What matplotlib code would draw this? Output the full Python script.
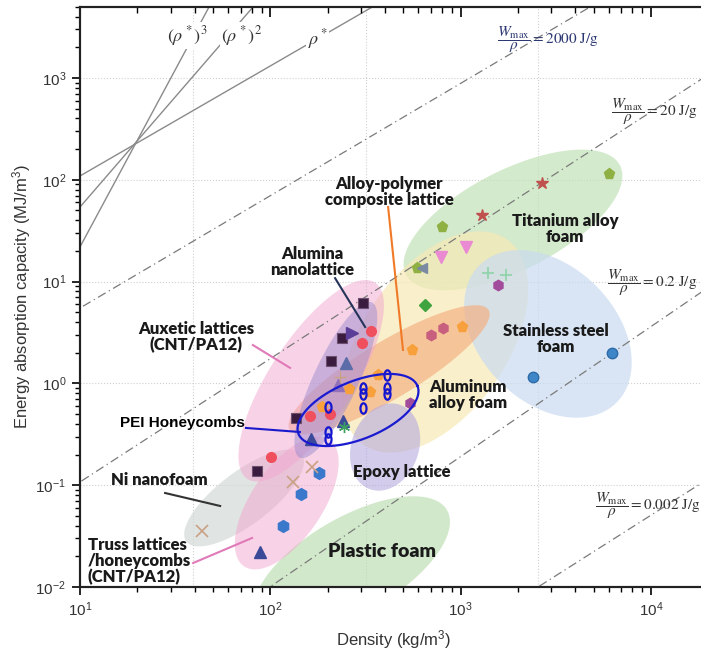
import numpy as np
import matplotlib
matplotlib.use('Agg')
import matplotlib.pyplot as plt
from matplotlib.path import Path
from matplotlib.transforms import Affine2D
from matplotlib.ticker import LogLocator, FuncFormatter, NullFormatter

plt.rcParams['font.family'] = ['Liberation Sans', 'DejaVu Sans']

# ---------------- data (density kg/m3, W MJ/m3) ----------------
sq_rho = [307, 238, 208, 136, 85]
sq_w = [6.2, 2.8, 1.66, 0.457, 0.138]

red_rho = [338, 303, 206, 162, 101]
red_w = [3.27, 2.49, 0.50, 0.48, 0.189]

navy_tri_rho = [241, 164, 88]
navy_tri_w = [0.43, 0.284, 0.022]
slate_tri_rho = [250]
slate_tri_w = [1.58]
violet_tri_rho = [227]
violet_tri_w = [0.96]
right_tri_rho = [269]
right_tri_w = [3.13]

orange_rho = [187, 259, 334, 368, 556, 1016]
orange_w = [0.586, 0.88, 0.82, 1.21, 2.13, 3.58]

mauve_rho = [698, 809]
mauve_w = [2.99, 3.50]
purple_hex_rho = [1574, 542]
purple_hex_w = [9.27, 0.64]
diamond_rho = [650]
diamond_w = [5.9]
olive_rho = [798, 590, 6026]
olive_w = [34.4, 13.6, 114]
left_tri_rho = [627]
left_tri_w = [13.6]
star_rho = [2680, 1294]
star_w = [93, 45]
down_tri_rho = [789, 1067]
down_tri_w = [17.5, 21.9]
gplus_rho = [1393, 1733]
gplus_w = [12.1, 11.6]
sphere_rho = [2400, 6250]
sphere_w = [1.16, 1.99]
bhex_rho = [180, 145, 117]
bhex_w = [0.132, 0.082, 0.040]
tanx_rho = [166, 132, 43.7]
tanx_w = [0.151, 0.107, 0.0355]
tanplus_rho = [232]
tanplus_w = [1.16]
aster_rho = [244]
aster_w = [0.373]

pei_rho = [410, 307, 307, 410, 410, 307, 201, 201, 201]
pei_w = [1.21, 0.90, 0.787, 0.90, 0.787, 0.575, 0.586, 0.333, 0.284]

# material regions: name, centre density, centre W, semi-axes (decades), angle (deg)
region_names = ['Plastic foam', 'Titanium alloy foam', 'Aluminum alloy foam',
                'Stainless steel foam', 'Alloy-polymer composite lattice', 'Ni nanofoam',
                'Auxetic lattices', 'Truss lattices', 'Alumina nanolattice', 'Epoxy lattice']
region_rho = [268, 1884, 735, 2877, 421, 72.8, 164, 122, 221, 401]
region_w = [0.0164, 40.3, 2.55, 3.06, 1.36, 0.0748, 1.06, 0.0668, 1.08, 0.237]
region_a = [1.08, 1.18, 1.23, 0.953, 1.14, 0.71, 1.15, 0.75, 0.84, 0.44]
region_b = [0.47, 0.49, 0.71, 0.668, 0.28, 0.26, 0.41, 0.35, 0.22, 0.33]
region_ang = [30, 27, 55, -45, 31, 37, 57, 56, 65, 70]
region_colors = ['#bfdfb5', '#c3e2b8', '#f7e9b5', '#c9dbf0', '#f5ad7e', '#d3d9d6',
                 '#f2a6cf', '#f2a6cf', '#9c8ed0', '#b6aadf']
region_alpha = [0.7, 0.7, 0.7, 0.7, 0.65, 0.7, 0.5, 0.5, 0.5, 0.6]

# PEI honeycomb outline
pei_c = (289, 0.548)
pei_ax = (0.63, 0.285, 22)

# constant W/rho guide lines, two points each
guide_pts = [[(10, 5.5), (4786, 4977)],
             [(10, 0.1075), (18130, 955)],
             [(103, 0.01047), (18130, 7.72)],
             [(2553, 0.0100), (18130, 0.1028)]]
guide_texts = [r'$\dfrac{W_{\max}}{\rho} = 2000\ \mathrm{J/g}$',
               r'$\dfrac{W_{\max}}{\rho} = 20\ \mathrm{J/g}$',
               r'$\dfrac{W_{\max}}{\rho} = 0.2\ \mathrm{J/g}$',
               r'$\dfrac{W_{\max}}{\rho} = 0.002\ \mathrm{J/g}$']
guide_text_pos = [(1552, 2362), (6150, 464), (5860, 9.68), (5083, 0.0638)]

# relative density scaling lines
power_pts = [[(10, 109), (152, 2063)],
             [(10, 54), (55.7, 2208)],
             [(10, 21.9), (36.5, 1972)]]
power_texts = [r'$\rho^*$', r'$(\rho^*)^2$', r'$(\rho^*)^3$']
power_text_pos = [(178, 2416), (71, 2588), (36.5, 2588)]

vgrid = [39.3, 318, 2553]
hgrid = [0.1, 1, 10, 100, 1000]

# ---------------- figure ----------------
fig = plt.figure(figsize=(7.01, 6.51), dpi=100)
ax = fig.add_axes([80 / 701, 64 / 651, 628.2 / 701, 580.2 / 651])
ax.set_xscale('log')
ax.set_yscale('log')
ax.set_xlim(10, 2e4)
ax.set_ylim(0.01, 5000)

for v in vgrid:
    ax.axvline(v, color='#d0d0d0', ls=':', lw=0.8, zorder=0)
for h in hgrid:
    ax.axhline(h, color='#d0d0d0', ls=':', lw=0.8, zorder=0)

# pixel aspect of one decade, for ellipses that look right on screen
p = ax.transData.transform([(10, 1), (100, 10)])
k = (p[1, 1] - p[0, 1]) / (p[1, 0] - p[0, 0])


def ellipse_xy(rc, wc, a, b, ang):
    t = np.linspace(0, 2 * np.pi, 240)
    th = np.deg2rad(ang)
    du = (a * np.cos(th) * np.cos(t) - b * np.sin(th) * np.sin(t)) * k
    dv = a * np.sin(th) * np.cos(t) + b * np.cos(th) * np.sin(t)
    return 10 ** (np.log10(rc) + du), 10 ** (np.log10(wc) + dv)


for i in range(len(region_names)):
    x, y = ellipse_xy(region_rho[i], region_w[i], region_a[i], region_b[i], region_ang[i])
    ax.fill(x, y, color=region_colors[i], alpha=region_alpha[i], lw=0, zorder=1)

# guide lines
xs = np.array([5, 5e4])
for pts in guide_pts:
    (x1, y1), (x2, y2) = pts
    s = (np.log10(y2) - np.log10(y1)) / (np.log10(x2) - np.log10(x1))
    ys = 10 ** (np.log10(y1) + s * (np.log10(xs) - np.log10(x1)))
    ax.plot(xs, ys, color='#7a7a7a', lw=0.9, ls=(0, (7, 3, 1, 3)), zorder=2)

for pts in power_pts:
    (x1, y1), (x2, y2) = pts
    s = (np.log10(y2) - np.log10(y1)) / (np.log10(x2) - np.log10(x1))
    ys = 10 ** (np.log10(y1) + s * (np.log10(xs) - np.log10(x1)))
    ax.plot(xs, ys, color='#8a8a8a', lw=1.0, zorder=2)

for txt, (tx, ty) in zip(power_texts, power_text_pos):
    ax.text(tx, ty, txt, fontsize=13, ha='center', va='center', color='#333333',
            math_fontfamily='stix', zorder=3,
            bbox=dict(facecolor='white', edgecolor='none', pad=1.0))

for i, (txt, (tx, ty)) in enumerate(zip(guide_texts, guide_text_pos)):
    ax.text(tx, ty, txt, fontsize=11, ha='left', va='center',
            color='#2c3872' if i == 0 else '#333333', math_fontfamily='stix', zorder=3)

# PEI outline
x, y = ellipse_xy(pei_c[0], pei_c[1], pei_ax[0], pei_ax[1], pei_ax[2])
ax.plot(x, y, color='#1a1ad0', lw=1.6, zorder=5)

# markers
mk = dict(ls='none', zorder=4)
ax.plot(sq_rho, sq_w, marker='s', ms=6.5, mfc='#3a1c3e', mec='#6d5070', mew=0.8, **mk)
ax.plot(red_rho, red_w, marker='o', ms=7, mfc='#f0505e', mec='#f0505e', **mk)
ax.plot(navy_tri_rho, navy_tri_w, marker='^', ms=8, mfc='#3b4a98', mec='#3b4a98', **mk)
ax.plot(slate_tri_rho, slate_tri_w, marker='^', ms=8, mfc='#5b6ca8', mec='#5b6ca8', **mk)
ax.plot(violet_tri_rho, violet_tri_w, marker='^', ms=8, mfc='#9070b8', mec='#9070b8', **mk)
ax.plot(right_tri_rho, right_tri_w, marker='>', ms=8, mfc='#5a3e98', mec='#5a3e98', **mk)
ax.plot(orange_rho, orange_w, marker='p', ms=8, mfc='#f7a03c', mec='#f7a03c', **mk)
ax.plot(mauve_rho, mauve_w, marker='h', ms=7.5, mfc='#c85f7e', mec='#c85f7e', **mk)
ax.plot(purple_hex_rho, purple_hex_w, marker='h', ms=7.5, mfc='#a24c9c', mec='#a24c9c', **mk)
ax.plot(diamond_rho, diamond_w, marker='D', ms=6, mfc='#3fa33f', mec='#3fa33f', **mk)
ax.plot(olive_rho, olive_w, marker='p', ms=8, mfc='#8fb043', mec='#8fb043', **mk)
ax.plot(left_tri_rho, left_tri_w, marker='<', ms=7, mfc='#7a8aa2', mec='#7a8aa2', **mk)
ax.plot(star_rho, star_w, marker='*', ms=9, mfc='#c0504d', mec='#c0504d', **mk)
ax.plot(down_tri_rho, down_tri_w, marker='v', ms=8, mfc='#e98ad2', mec='#e98ad2', **mk)
ax.plot(gplus_rho, gplus_w, marker='+', ms=8, mec='#8fd4aa', mew=1.2, **mk)
ax.plot(sphere_rho, sphere_w, marker='o', ms=7.5, mfc='#3f86c8', mec='#2d6aa8', **mk)
ax.plot(bhex_rho, bhex_w, marker='h', ms=8.5, mfc='#3a78cc', mec='#3a78cc', **mk)
ax.plot(tanx_rho, tanx_w, marker='x', ms=8, mec='#c9a184', mew=1.2, **mk)
ax.plot(tanplus_rho, tanplus_w, marker='+', ms=8, mec='#c9a184', mew=1.0, **mk)
ax.plot(aster_rho, aster_w, marker=(6, 2, 0), ms=8, mec='#3da060', mew=1.0, **mk)
oval = Path.unit_circle().transformed(Affine2D().scale(0.58, 1.0))
ax.plot(pei_rho, pei_w, marker=oval, ms=7.5, mfc='none', mec='#1515d0', mew=1.6, **mk)

# annotation leader lines
leaders = [([219, 315], [10.8, 3.58], '#26345a'),
           ([416, 498], [54, 2.13], '#f07a28'),
           ([81, 127], [2.38, 1.42], '#e07ab8'),
           ([28, 54.5], [0.0838, 0.0625], '#333333'),
           ([39.3, 80.2], [0.0172, 0.0303], '#e07ab8'),
           ([74.5, 143], [0.365, 0.333], '#1a1acc')]
for lx, ly, c in leaders:
    ax.plot(lx, ly, color=c, lw=1.5, zorder=3)

lab = dict(fontfamily='Lato', fontweight='heavy', color='#1a1a1a', fontsize=12,
           ha='center', va='center', linespacing=1.0, zorder=6)
ax.text(421, 75.9, 'Alloy-polymer\ncomposite lattice', **lab)
ax.text(3540, 32.9, 'Titanium alloy\nfoam', **lab)
ax.text(166, 15.6, 'Alumina\nnanolattice', **lab)
ax.text(40.7, 2.86, 'Auxetic lattices\n(CNT/PA12)', **lab)
ax.text(3170, 2.73, 'Stainless steel\nfoam', **lab)
ax.text(1094, 0.769, 'Aluminum\nalloy foam', **lab)
ax.text(492, 0.135, 'Epoxy lattice', **lab)
ax.text(26, 0.1125, 'Ni nanofoam', **lab)
ax.text(11.0, 0.018, 'Truss lattices\n/honeycombs\n(CNT/PA12)',
        **{**lab, 'ha': 'left'})
ax.text(386, 0.0221, 'Plastic foam', **{**lab, 'fontsize': 14})
ax.text(34.4, 0.408, 'PEI Honeycombs', fontsize=11, fontweight='bold', color='black',
        ha='center', va='center', zorder=6)

# axes styling
fmt = FuncFormatter(lambda v, _: r'$\mathregular{10^{%d}}$' % round(np.log10(v)))
for axis in (ax.xaxis, ax.yaxis):
    axis.set_major_locator(LogLocator(base=10, numticks=12))
    axis.set_minor_locator(LogLocator(base=10, subs=np.arange(2, 10), numticks=12))
    axis.set_major_formatter(fmt)
    axis.set_minor_formatter(NullFormatter())
ax.tick_params(which='major', direction='out', length=6, width=1.2, labelsize=11,
               labelcolor='#333333', pad=4)
ax.tick_params(which='minor', direction='out', length=3.5, width=1.0)
ax.tick_params(right=False, top=False)

top = ax.twiny()
top.set_xscale('log')
top.set_xlim(ax.get_xlim())
top.xaxis.set_major_locator(LogLocator(base=10, numticks=12))
top.xaxis.set_minor_locator(LogLocator(base=10, subs=np.arange(2, 10), numticks=12))
top.tick_params(which='major', direction='in', length=7, width=1.2, labeltop=False)
top.tick_params(which='minor', direction='in', length=4, width=1.0)
top.xaxis.set_minor_formatter(NullFormatter())

for a_ in (ax, top):
    for sp in a_.spines.values():
        sp.set_linewidth(1.5)
        sp.set_color('#222222')

ax.set_xlabel(r'Density (kg/m$\mathregular{^3}$)', fontsize=12, color='#333333', labelpad=6)
ax.set_ylabel(r'Energy absorption capacity (MJ/m$\mathregular{^3}$)', fontsize=12,
              color='#333333', labelpad=2)

fig.savefig('out.png', dpi=100)
